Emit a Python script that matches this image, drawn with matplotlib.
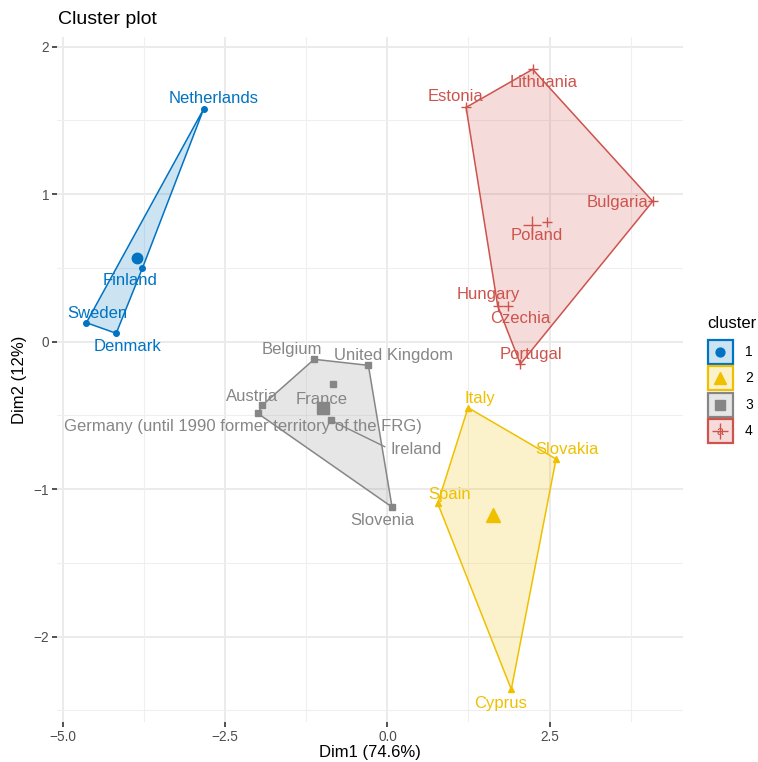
import matplotlib
matplotlib.use("Agg")
import matplotlib.pyplot as plt
from matplotlib.patches import Polygon, Rectangle
import numpy as np

plt.rcParams['font.family'] = ['Liberation Sans', 'DejaVu Sans']

# ---------------- data ----------------
countries = ["Netherlands", "Finland", "Sweden", "Denmark",
             "Italy", "Slovakia", "Spain", "Cyprus",
             "Belgium", "United Kingdom", "Austria",
             "Germany (until 1990 former territory of the FRG)",
             "France", "Ireland", "Slovenia",
             "Lithuania", "Estonia", "Bulgaria", "Poland",
             "Hungary", "Czechia", "Portugal"]
dim1 = [-2.83, -3.775, -4.64, -4.18,
        1.243, 2.60, 0.776, 1.91,
        -1.129, -0.293, -1.93, -1.997, -0.832, -0.872, 0.072,
        2.24, 1.213, 4.09, 2.465, 1.70, 1.865, 2.05]
dim2 = [1.58, 0.50, 0.129, 0.057,
        -0.447, -0.795, -1.096, -2.357,
        -0.119, -0.160, -0.431, -0.486, -0.287, -0.533, -1.121,
        1.847, 1.589, 0.952, 0.811, 0.244, 0.244, -0.151]
cluster = [1, 1, 1, 1,
           2, 2, 2, 2,
           3, 3, 3, 3, 3, 3, 3,
           4, 4, 4, 4, 4, 4, 4]
cluster_ids = [1, 2, 3, 4]
x_ticks = [-5.0, -2.5, 0.0, 2.5]
y_ticks = [-2, -1, 0, 1, 2]

# ---------------- style / layout ----------------
colors = {1: "#0073C2", 2: "#EFC000", 3: "#868686", 4: "#CD534C"}
markers = {1: "o", 2: "^", 3: "s", 4: "+"}
msize = {1: 4.0, 2: 4.5, 3: 4.6, 4: 7}
csize = {1: 7.5, 2: 10, 3: 8.5, 4: 13}
# label offsets in pixels (dx right, dy up)
label_off = {
    "Netherlands": (10, 10), "Finland": (-12, -13), "Sweden": (11, 9),
    "Denmark": (11, -13), "Lithuania": (11, -13), "Estonia": (-11, 11),
    "Bulgaria": (-35, -1), "Poland": (-11, -13), "Hungary": (-9, 11),
    "Czechia": (12, -13), "Portugal": (11, 10), "Italy": (12, 9),
    "Slovakia": (11, 10), "Spain": (12, 9), "Cyprus": (-11, -14),
    "Belgium": (-22, 10), "United Kingdom": (25, 10), "Austria": (-10, 9),
    "France": (-12, -15),
    "Germany (until 1990 former territory of the FRG)": (-15, -13),
    "Ireland": (85, -29), "Slovenia": (-10, -13),
}
segment_labels = {"Ireland"}

W, H = 758, 762
fig = plt.figure(figsize=(W / 100, H / 100), dpi=100)
pl, pr, pt, pb = 57.3, 682.7, 37.3, 721.7
ax = fig.add_axes([pl / W, 1 - pb / H, (pr - pl) / W, (pb - pt) / H])
ax.set_xlim(-5.088, 4.552)
ax.set_ylim(-2.576, 2.064)

# grid
for v in x_ticks:
    ax.axvline(v, color="#EBEBEB", lw=1.4, zorder=0)
for v in y_ticks:
    ax.axhline(v, color="#EBEBEB", lw=1.4, zorder=0)
for v in [-3.75, -1.25, 1.25, 3.75]:
    ax.axvline(v, color="#EFEFEF", lw=0.75, zorder=0)
for v in [-2.5, -1.5, -0.5, 0.5, 1.5]:
    ax.axhline(v, color="#EFEFEF", lw=0.75, zorder=0)
for s in ax.spines.values():
    s.set_visible(False)


def convex_hull(pts):
    pts = sorted(set(pts))
    if len(pts) < 3:
        return pts

    def cross(o, a, b):
        return (a[0] - o[0]) * (b[1] - o[1]) - (a[1] - o[1]) * (b[0] - o[0])
    lower, upper = [], []
    for p in pts:
        while len(lower) >= 2 and cross(lower[-2], lower[-1], p) <= 0:
            lower.pop()
        lower.append(p)
    for p in reversed(pts):
        while len(upper) >= 2 and cross(upper[-2], upper[-1], p) <= 0:
            upper.pop()
        upper.append(p)
    return lower[:-1] + upper[:-1]


d1 = np.array(dim1)
d2 = np.array(dim2)
cl = np.array(cluster)
for c in cluster_ids:
    m = cl == c
    pts = list(zip(d1[m], d2[m]))
    hull = convex_hull(pts)
    ax.add_patch(Polygon(hull, closed=True, facecolor=colors[c], alpha=0.2,
                         edgecolor="none", zorder=1))
    ax.add_patch(Polygon(hull, closed=True, facecolor="none",
                         edgecolor=colors[c], lw=1.1, zorder=2))
    ax.plot(d1[m], d2[m], linestyle="none", marker=markers[c],
            markersize=msize[c], color=colors[c], mew=1.0, zorder=3)
    ax.plot([d1[m].mean()], [d2[m].mean()], linestyle="none",
            marker=markers[c], markersize=csize[c], color=colors[c],
            mew=1.0, zorder=3)

for name, x, y, c in zip(countries, dim1, dim2, cluster):
    dx, dy = label_off[name]
    if name in segment_labels:
        ax.annotate(name, (x, y), xytext=(dx, dy), textcoords="offset pixels",
                    ha="center", va="center", fontsize=12, color=colors[c],
                    zorder=4,
                    arrowprops=dict(arrowstyle="-", color=colors[c], lw=1.0,
                                    shrinkA=2, shrinkB=1, relpos=(0, 0.5)))
    else:
        ax.annotate(name, (x, y), xytext=(dx, dy), textcoords="offset pixels",
                    ha="center", va="center", fontsize=12, color=colors[c],
                    zorder=4)

ax.set_xticks(x_ticks)
ax.set_xticklabels([f"{v:.1f}".replace("-", "\u2212") for v in x_ticks])
ax.set_yticks(y_ticks)
ax.set_yticklabels([str(v).replace("-", "\u2212") for v in y_ticks])
ax.tick_params(axis="both", length=3.4, width=1.1, color="#222222",
               labelcolor="#4D4D4D", labelsize=9.8, pad=2.5)

fig.text((pl + pr) / 2 / W, 1 - 752 / H, "Dim1 (74.6%)", ha="center",
         va="center", fontsize=12)
fig.text(20 / W, 1 - (pt + pb) / 2 / H, "Dim2 (12%)", ha="center",
         va="center", rotation=90, fontsize=12)
fig.text(57.7 / W, 1 - 19 / H, "Cluster plot", ha="left", va="center",
         fontsize=14)

# legend (drawn in pixel coordinates on an overlay axes)
lax = fig.add_axes([0, 0, 1, 1])
lax.set_xlim(0, W)
lax.set_ylim(H, 0)
lax.axis("off")
lax.text(707, 324, "cluster", ha="left", va="center", fontsize=12)
key_x, key_w, key_h, key_step, key_top = 708, 24.5, 24, 26.4, 340
for i, c in enumerate(cluster_ids):
    y0 = key_top + i * key_step
    lax.add_patch(Rectangle((key_x, y0), key_w, key_h, facecolor="white",
                            edgecolor="none"))
    lax.add_patch(Rectangle((key_x, y0), key_w, key_h, facecolor=colors[c],
                            alpha=0.2, edgecolor="none"))
    lax.add_patch(Rectangle((key_x, y0), key_w, key_h, facecolor="none",
                            edgecolor=colors[c], lw=1.6))
    cx, cy = key_x + key_w / 2, y0 + key_h / 2
    if c == 4:
        lax.text(cx, cy + 1, "a", ha="center", va="center", fontsize=9,
                 color=colors[c])
    lax.plot([cx], [cy], marker=markers[c], markersize=csize[c] * 0.85,
             color=colors[c], mew=1.0, linestyle="none")
    lax.text(745, cy, str(c), ha="left", va="center", fontsize=10)

fig.savefig("out.png", dpi=100, facecolor="white")
